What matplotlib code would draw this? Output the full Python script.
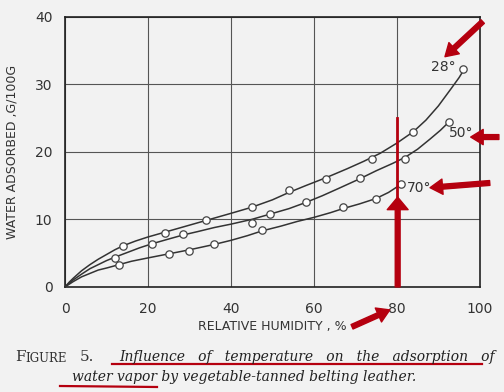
import matplotlib
matplotlib.use("Agg")
import matplotlib.pyplot as plt

# maalepunkt (les av bildet)
rh_28 = [14, 24, 34, 45, 54, 63, 74, 84, 96]
w_28 = [6.0, 8.0, 9.9, 11.8, 14.3, 16.0, 19.0, 23.0, 32.3]
rh_50 = [12, 21, 28.5, 45, 49.5, 58, 71, 82, 92.5]
w_50 = [4.3, 6.4, 7.8, 9.5, 10.8, 12.6, 16.1, 19.0, 24.4]
rh_70 = [13, 25, 30, 36, 47.5, 67, 75, 81]
w_70 = [3.2, 4.9, 5.3, 6.4, 8.4, 11.8, 13.0, 15.3]

# kurvene (glatte linjer gjennom origo)
kurve_28_x = [0, 1, 2, 4, 6, 8, 10, 12, 14, 17, 20, 24, 28, 32, 36, 40, 45, 50, 54, 58, 63,
              68, 72, 76, 80, 84, 87, 90, 93, 95, 96.5]
kurve_28_y = [0, 0.7, 1.3, 2.4, 3.3, 4.1, 4.8, 5.5, 6.1, 6.8, 7.4, 8.1, 8.8, 9.5, 10.2, 10.9,
              11.8, 12.9, 14.0, 15.0, 16.2, 17.5, 18.6, 19.8, 21.3, 23.0, 24.7, 26.8, 29.3, 31.0, 32.5]
kurve_50_x = [0, 1, 2, 4, 6, 8, 10, 12, 15, 18, 21, 25, 28.5, 32, 36, 40, 45, 49.5, 54, 58, 62,
              66, 71, 75, 79, 82, 85, 88, 90.5, 92.5]
kurve_50_y = [0, 0.55, 1.05, 1.9, 2.7, 3.3, 3.9, 4.4, 5.1, 5.8, 6.4, 7.1, 7.7, 8.2, 8.8, 9.3,
              10.0, 10.8, 11.6, 12.5, 13.5, 14.6, 16.0, 17.2, 18.3, 19.2, 20.4, 21.9, 23.2, 24.4]
kurve_70_x = [0, 1, 2, 4, 6, 8, 10, 13, 16, 20, 25, 30, 36, 40, 44, 47.5, 52, 56, 60, 64, 67,
              71, 75, 78, 80, 81]
kurve_70_y = [0, 0.4, 0.8, 1.5, 2.0, 2.5, 2.8, 3.3, 3.8, 4.3, 4.9, 5.5, 6.3, 6.9, 7.6, 8.3,
              9.0, 9.7, 10.3, 11.0, 11.6, 12.3, 13.1, 14.0, 14.8, 15.3]

x_ticks = [0, 20, 40, 60, 80, 100]
y_ticks = [0, 10, 20, 30, 40]

bakgrunn = '#f2f2f2'
strek = '#333333'
rod = '#b5000f'

fig = plt.figure(figsize=(5.04, 3.92), dpi=100, facecolor=bakgrunn)
ax = fig.add_axes([0.129, 0.268, 0.823, 0.689], facecolor=bakgrunn)

for kx, ky in [(kurve_28_x, kurve_28_y), (kurve_50_x, kurve_50_y), (kurve_70_x, kurve_70_y)]:
    ax.plot(kx, ky, color=strek, lw=1.1, zorder=3)

for px, py in [(rh_28, w_28), (rh_50, w_50), (rh_70, w_70)]:
    ax.plot(px, py, 'o', ms=5.3, mfc='white', mec='#444444', mew=0.9, zorder=4)

ax.set_xlim(0, 100)
ax.set_ylim(0, 40)
ax.set_xticks(x_ticks)
ax.set_yticks(y_ticks)
ax.grid(True, color='#555555', lw=0.8)
ax.set_axisbelow(True)
ax.tick_params(length=0, labelsize=10, labelcolor='#333333')
ax.tick_params(axis='x', pad=11)
ax.tick_params(axis='y', pad=9)
for s in ax.spines.values():
    s.set_color('#222222')
    s.set_linewidth(1.2)

ax.set_xlabel('RELATIVE HUMIDITY , %', fontsize=9, color='#333333', labelpad=3)
ax.set_ylabel('WATER ADSORBED ,G/100G', fontsize=9, color='#333333', labelpad=12)

# temperatur-etiketter
ax.text(91.1, 32.6, '28°', fontsize=10, color='#333333', ha='center', va='center')
ax.text(95.4, 22.8, '50°', fontsize=10, color='#333333', ha='center', va='center')
ax.text(85.3, 14.6, '70°', fontsize=10, color='#333333', ha='center', va='center')

# rode markeringer
pil = dict(arrowstyle='simple,head_width=1.1,head_length=0.9,tail_width=0.35',
           mutation_scale=10, color=rod, shrinkA=0, shrinkB=0)
ax.annotate('', xy=(91.6, 34.1), xytext=(100.7, 39.3), arrowprops=pil, annotation_clip=False)
ax.annotate('', xy=(97.8, 22.2), xytext=(104.6, 22.2), arrowprops=pil, annotation_clip=False)
ax.annotate('', xy=(88.0, 14.7), xytext=(102.4, 15.4), arrowprops=pil, annotation_clip=False)
ax.annotate('', xy=(78.3, -3.4), xytext=(69.2, -5.9), arrowprops=pil, annotation_clip=False)
ax.plot([80, 80], [0, 25], color=rod, lw=2.0, zorder=5)
pil_opp = dict(arrowstyle='simple,head_width=1.5,head_length=0.9,tail_width=0.35',
               mutation_scale=10, color=rod, shrinkA=0, shrinkB=0)
ax.annotate('', xy=(80.2, 13.3), xytext=(80.2, 0), arrowprops=pil_opp, annotation_clip=False)

# figurtekst
fig.text(15 / 504, 1 - 357 / 392, 'F', fontsize=11, family='DejaVu Serif', color='#333333', va='center')
fig.text(25 / 504, 1 - 358 / 392, 'IGURE', fontsize=8.5, family='DejaVu Serif', color='#333333', va='center')
fig.text(80 / 504, 1 - 357 / 392, '5.', fontsize=11, family='DejaVu Serif', color='#333333', va='center')
fig.text(119 / 504, 1 - 357 / 392, 'Influence   of   temperature   on   the   adsorption   of',
         fontsize=10, family='DejaVu Serif', style='italic', color='#222222', va='center')
fig.text(72 / 504, 1 - 377 / 392, 'water vapor by vegetable-tanned belting leather.',
         fontsize=10, family='DejaVu Serif', style='italic', color='#222222', va='center')
fig.add_artist(plt.Line2D([112 / 504, 482 / 504], [1 - 364 / 392, 1 - 364 / 392], color=rod, lw=1.6))
fig.add_artist(plt.Line2D([60 / 504, 157 / 504], [1 - 386 / 392, 1 - 387 / 392], color=rod, lw=1.6))

fig.savefig('out.png', dpi=100, facecolor=bakgrunn)
